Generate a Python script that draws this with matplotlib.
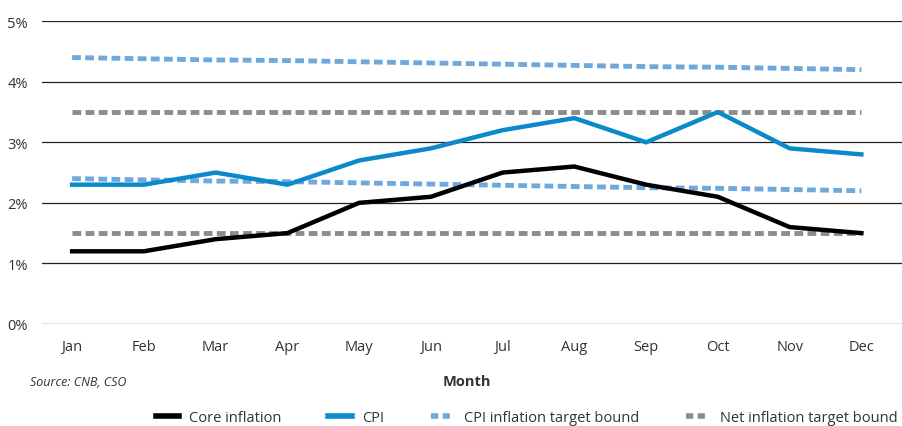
import numpy as np
import matplotlib
matplotlib.use('Agg')
import matplotlib.pyplot as plt

months = ["Jan", "Feb", "Mar", "Apr", "May", "Jun", "Jul", "Aug", "Sep", "Oct", "Nov", "Dec"]
core = [1.2, 1.2, 1.4, 1.5, 2.0, 2.1, 2.5, 2.6, 2.3, 2.1, 1.6, 1.5]
cpi = [2.3, 2.3, 2.5, 2.3, 2.7, 2.9, 3.2, 3.4, 3.0, 3.5, 2.9, 2.8]
cpi_upper = [4.40, 4.38, 4.36, 4.35, 4.33, 4.31, 4.29, 4.27, 4.25, 4.24, 4.22, 4.20]
cpi_lower = [2.40, 2.38, 2.36, 2.35, 2.33, 2.31, 2.29, 2.27, 2.25, 2.24, 2.22, 2.20]
net_upper = [3.5] * 12
net_lower = [1.5] * 12

plt.rcParams['font.family'] = ['Open Sans', 'DejaVu Sans']

fig = plt.figure(figsize=(9.03, 4.27), dpi=100)
ax = fig.add_axes([0.0465, 0.239, 0.9535, 0.709])

x = np.arange(len(months))
blue_b = "#6fa8dc"
grey_b = "#8c8c8c"

ax.plot(x, net_upper, color=grey_b, lw=3.5, dashes=(1.8, 0.9))
ax.plot(x, net_lower, color=grey_b, lw=3.5, dashes=(1.8, 0.9))
ax.plot(x, cpi_upper, color=blue_b, lw=3.5, dashes=(1.8, 0.9))
ax.plot(x, cpi_lower, color=blue_b, lw=3.5, dashes=(1.8, 0.9))
ax.plot(x, core, color="black", lw=3.2)
ax.plot(x, cpi, color="#0a8ac8", lw=3.2)

ax.set_xlim(-0.42, 11.58)
ax.set_ylim(0, 5)
ax.set_yticks(range(6))
ax.set_yticklabels([f"{i}%" for i in range(6)])
ax.set_xticks(x)
ax.set_xticklabels(months)
ax.tick_params(length=0, labelsize=10.5, colors="#333333", pad=11)
ax.tick_params(axis='y', pad=10)
for s in ax.spines.values():
    s.set_visible(False)
ax.grid(axis='y', color="#222222", lw=0.9)
ax.set_axisbelow(True)

fig.text(0.033, 0.105, "Source: CNB, CSO", fontsize=9, style='italic', color="#333333", va='center')
fig.text(0.517, 0.105, "Month", fontsize=10.5, weight='bold', color="#333333", ha='center', va='center')

handles = [
    plt.Line2D([], [], color="black", lw=4),
    plt.Line2D([], [], color="#0a8ac8", lw=4),
    plt.Line2D([], [], color=blue_b, lw=4, dashes=(1.3, 0.8)),
    plt.Line2D([], [], color=grey_b, lw=4, dashes=(1.3, 0.8)),
]
labels = ["Core inflation", "CPI", "CPI inflation target bound", "Net inflation target bound"]
fig.legend(handles, labels, loc='center', bbox_to_anchor=(0.583, 0.02), ncol=4, frameon=False,
           fontsize=10.5, handlelength=1.6, columnspacing=3.2, handletextpad=0.7,
           labelcolor="#333333")

fig.savefig("out.png", dpi=100)
